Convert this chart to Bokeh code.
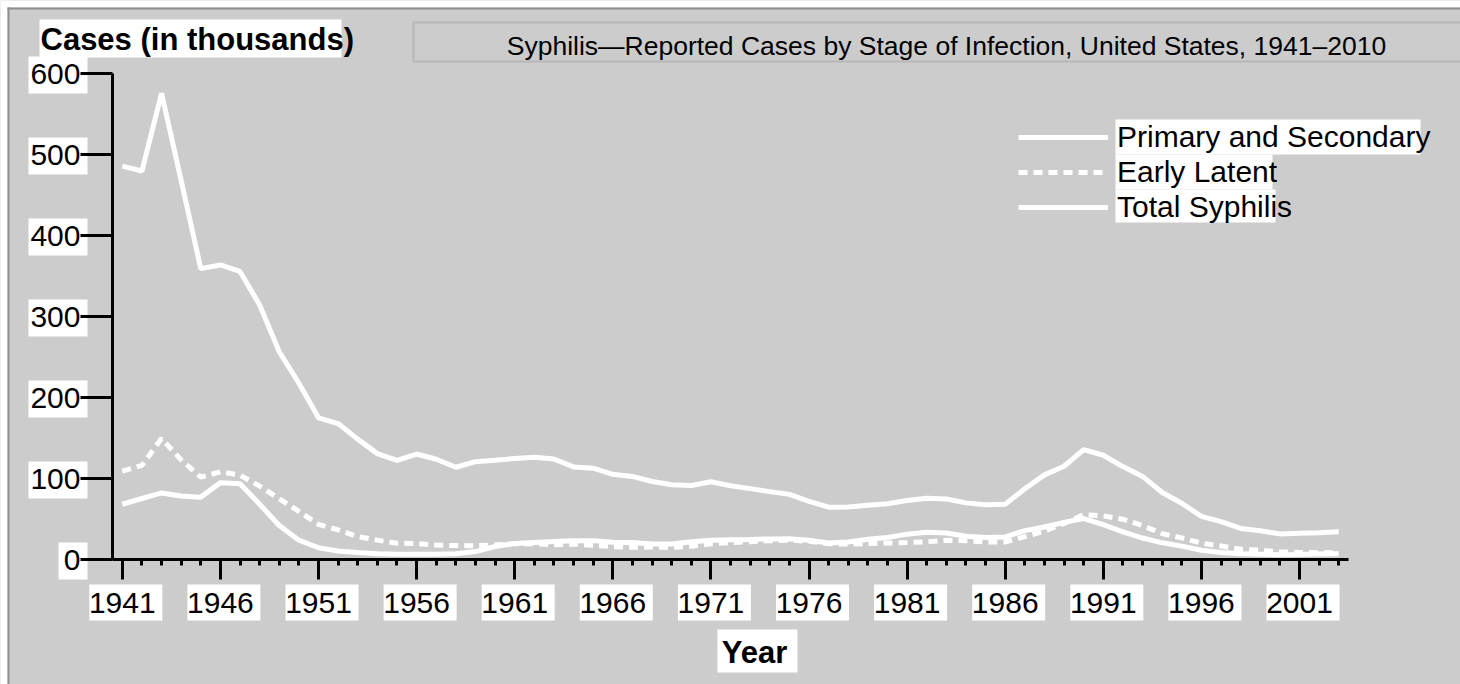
from bokeh.plotting import figure
from bokeh.models import (Range1d, FixedTicker, Label, BoxAnnotation, Legend, LegendItem)
from bokeh.embed import file_html
from bokeh.resources import INLINE

years = list(range(1941, 2004))
total_syphilis = [485.6, 479.6, 575.6, 467.8, 359.1, 363.6, 355.6, 314.3, 256.5, 217.6,
                  174.9, 167.8, 148.6, 130.7, 122.4, 130.2, 123.8, 113.9, 120.8, 122.5,
                  124.7, 126.2, 124.1, 114.3, 112.8, 105.2, 102.6, 96.3, 92.2, 91.4,
                  96.0, 91.1, 87.5, 83.8, 80.4, 71.8, 64.6, 64.9, 67.0, 68.8,
                  72.8, 75.6, 74.6, 69.9, 67.6, 68.2, 87.3, 104.5, 115.1, 135.6,
                  128.7, 114.7, 102.6, 82.7, 69.4, 53.2, 46.7, 38.3, 35.4, 31.6,
                  32.3, 32.9, 34.3]
primary_secondary = [68.2, 75.3, 82.2, 78.4, 77.0, 94.9, 93.5, 68.2, 41.9, 23.9,
                     14.5, 10.4, 8.6, 7.1, 6.5, 6.4, 6.6, 7.2, 9.8, 16.1,
                     19.9, 21.1, 22.3, 23.0, 23.3, 21.4, 21.1, 19.0, 19.1, 21.9,
                     23.8, 24.4, 24.8, 25.4, 25.6, 23.7, 20.4, 21.7, 24.9, 27.2,
                     31.3, 33.6, 32.7, 28.6, 27.1, 27.9, 35.6, 40.1, 45.8, 50.6,
                     43.0, 34.0, 26.5, 20.6, 16.5, 11.4, 8.6, 7.0, 6.6, 6.0,
                     6.1, 6.9, 7.2]
early_latent = [109.0, 116.2, 149.4, 123.0, 101.7, 108.2, 104.1, 90.6, 75.0, 59.3,
                43.3, 36.5, 28.3, 23.9, 20.1, 19.8, 17.8, 17.2, 17.0, 18.0,
                19.5, 19.6, 18.2, 19.2, 17.6, 15.8, 15.2, 15.3, 15.1, 16.3,
                19.4, 20.8, 22.0, 23.0, 24.0, 22.5, 19.5, 19.0, 19.6, 20.3,
                21.0, 21.9, 23.7, 23.1, 21.7, 21.7, 28.2, 35.1, 44.5, 55.4,
                53.9, 49.7, 41.9, 32.0, 26.7, 20.2, 16.6, 12.7, 11.5, 9.5,
                8.7, 8.4, 8.4]
x_major_ticks = [1941, 1946, 1951, 1956, 1961, 1966, 1971, 1976, 1981, 1986, 1991, 1996, 2001]
y_ticks = [0, 100, 200, 300, 400, 500, 600]

title_text = "Syphilis\u2014Reported Cases by Stage of Infection, United States, 1941\u20132010"
y_label_text = "Cases (in thousands)"
x_label_text = "Year"
series_names = ["Primary and Secondary", "Early Latent", "Total Syphilis"]

FONT = "Liberation Sans"
BG = "#cccccc"

W, H = 1460, 684
AX_X, AX_Y = 112, 559          # canvas position of the axes origin
PX_PER_YEAR = 19.62
PX_PER_UNIT = 0.81
X_ORIGIN = 1940.5
LABEL_DY = 10                  # baseline correction for Label text

x0 = X_ORIGIN - AX_X / PX_PER_YEAR
x1 = x0 + W / PX_PER_YEAR
y0 = -(H - AX_Y) / PX_PER_UNIT
y1 = AX_Y / PX_PER_UNIT

p = figure(width=W, height=H, output_backend="svg", toolbar_location=None,
           x_range=Range1d(x0, x1), y_range=Range1d(y0, y1),
           min_border_left=0, min_border_bottom=0, min_border_top=0, min_border_right=0)
p.background_fill_color = BG
p.border_fill_color = BG
p.outline_line_color = None
p.grid.visible = False


def sx(X):
    return X


def sy(Y):
    return H - Y


def box(l, r, t, b, level="underlay", **kw):
    ba = BoxAnnotation(left=sx(l), right=sx(r), top=sy(t), bottom=sy(b),
                       left_units="screen", right_units="screen",
                       top_units="screen", bottom_units="screen",
                       level=level, **kw)
    p.add_layout(ba)
    return ba


def label(X, Ybase, text, **kw):
    p.add_layout(Label(x=sx(X), y=sy(Ybase) + LABEL_DY, x_units="screen", y_units="screen",
                       text=text, text_baseline="alphabetic", text_font=FONT,
                       text_color="black", **kw))


# white page margin strips and gray outer border
box(0, W, 0, 7, fill_color="white", fill_alpha=1, line_color=None)
box(0, 7, 0, H, fill_color="white", fill_alpha=1, line_color=None)
box(7, W, 7, 9, fill_color="#8f8f8f", fill_alpha=1, line_color=None)
box(7, 9, 7, H, fill_color="#8f8f8f", fill_alpha=1, line_color=None)

# axes (placed at fixed locations inside the frame)
xa = p.xaxis[0]
xa.fixed_location = 0
xa.ticker = FixedTicker(ticks=x_major_ticks, minor_ticks=years)
xa.bounds = (X_ORIGIN, 2003.5)
xa.axis_line_width = 3
xa.axis_line_color = "black"
xa.major_tick_out = 20
xa.major_tick_in = 0
xa.major_tick_line_width = 3
xa.minor_tick_out = 6
xa.minor_tick_in = 0
xa.minor_tick_line_width = 3
xa.major_label_text_font = FONT
xa.major_label_text_font_size = "30px"
xa.major_label_text_color = "black"
xa.major_label_standoff = 13

ya = p.yaxis[0]
ya.fixed_location = X_ORIGIN
ya.ticker = FixedTicker(ticks=y_ticks)
ya.bounds = (0, 600)
ya.axis_line_width = 3
ya.axis_line_color = "black"
ya.major_tick_out = 32
ya.major_tick_in = 0
ya.major_tick_line_width = 3
ya.minor_tick_out = 0
ya.minor_tick_in = 0
ya.major_label_text_font = FONT
ya.major_label_text_font_size = "30px"
ya.major_label_text_color = "black"
ya.major_label_standoff = 0

# white backgrounds behind tick labels
for t in x_major_ticks:
    cx = AX_X + (t - X_ORIGIN) * PX_PER_YEAR
    box(cx - 33, cx + 40, 584, 620, fill_color="white", fill_alpha=1, line_color=None)
for t in y_ticks:
    cy = AX_Y - t * PX_PER_UNIT
    n = len(str(t))
    box(87 - (15 * n + 14), 87, cy - 17, cy + 20, fill_color="white", fill_alpha=1, line_color=None)

# data lines
r_total = p.line(years, total_syphilis, line_color="white", line_width=5)
r_el = p.line(years, early_latent, line_color="white", line_width=5, line_dash="9 6")
r_ps = p.line(years, primary_secondary, line_color="white", line_width=5)

# title box
box(413, 1500, 22, 61, level="annotation", fill_alpha=0, line_color="#858585", line_width=2)
label(946, 55, title_text, text_align="center", text_font_size="26.5px")

# y axis label
box(39, 341, 19, 57, fill_color="white", fill_alpha=1, line_color=None)
label(40, 49, y_label_text, text_align="left", text_font_style="bold", text_font_size="31px")

# x axis label
box(717, 797, 629, 672, fill_color="white", fill_alpha=1, line_color=None)
label(754, 662, x_label_text, text_align="center", text_font_style="bold", text_font_size="31px")

# legend label backgrounds
for (l, r, t, b) in [(1115, 1420, 119, 154), (1115, 1272, 154, 189), (1115, 1275, 189, 222)]:
    box(l, r, t, b, fill_color="white", fill_alpha=1, line_color=None)

# one legend per row so that each row can be placed like the reference
ROW_H = 35
for name, rend, cy in zip(series_names, [r_ps, r_el, r_total], [136, 171.5, 206.5]):
    lg = Legend(items=[LegendItem(label=name, renderers=[rend])],
                location=(sx(1018), sy(cy + ROW_H / 2)),
                padding=0, margin=0, spacing=0,
                glyph_width=90, glyph_height=30, label_height=30,
                label_standoff=9,
                label_text_font=FONT, label_text_font_size="30px",
                label_text_color="black",
                background_fill_alpha=0, border_line_color=None)
    p.add_layout(lg)

open("out.html", "w").write(file_html(p, INLINE))
